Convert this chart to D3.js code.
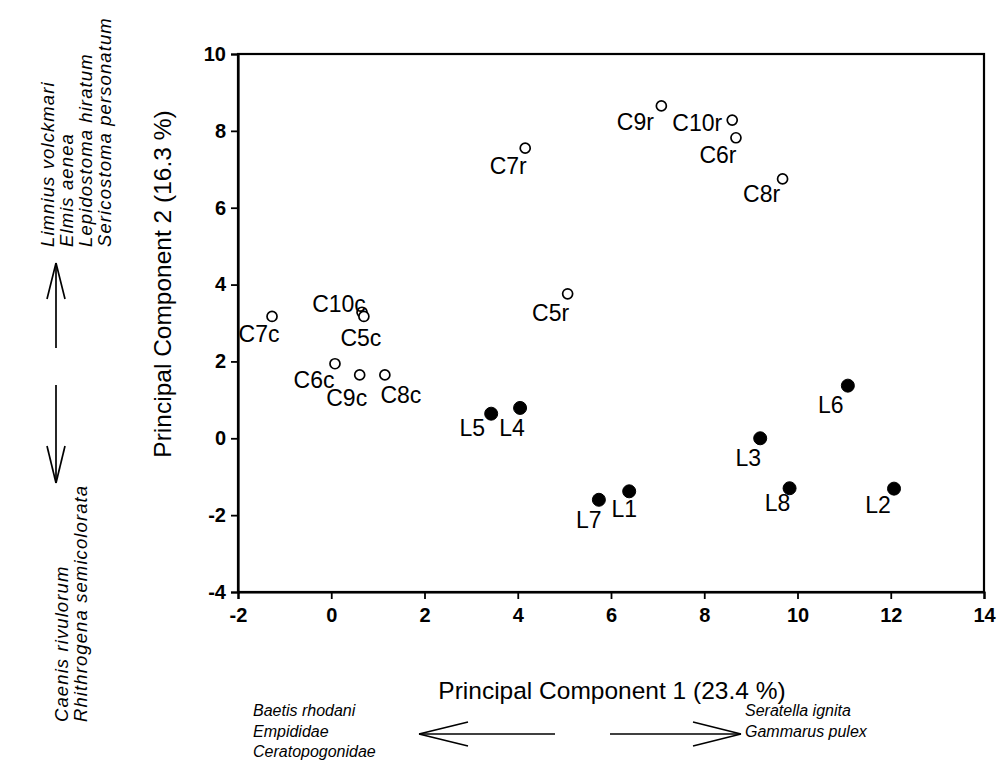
<!DOCTYPE html>
<html><head><meta charset="utf-8">
<script src="https://cdn.jsdelivr.net/npm/d3@7"></script>
<style>
body{margin:0;background:#fff;}
svg{display:block;font-family:"Liberation Sans",Arial,sans-serif;}
</style></head>
<body><svg id="chart" width="1002" height="761"></svg>
<script>
// ---- data ----
const siteNames   = ["C9r","C10r","C6r","C7r","C8r","C5r","C7c","C10c","C5c","C6c","C9c","C8c","L5","L4","L3","L1","L7","L8","L2","L6"];
const pc1Values   = [7.08, 8.60, 8.68, 4.16, 9.68, 5.07, -1.27, 0.66, 0.70, 0.08, 0.61, 1.15, 3.43, 4.05, 9.20, 6.39, 5.74, 9.83, 12.07, 11.08];
const pc2Values   = [8.65, 8.28, 7.82, 7.55, 6.75, 3.76, 3.17, 3.28, 3.17, 1.94, 1.65, 1.65, 0.64, 0.79, 0.00, -1.38, -1.60, -1.30, -1.31, 1.37];
const siteGroup   = ["open","open","open","open","open","open","open","open","open","open","open","open","filled","filled","filled","filled","filled","filled","filled","filled"];
const xTicks = [-2,0,2,4,6,8,10,12,14];
const yTicks = [-4,-2,0,2,4,6,8,10];
const xTitle = "Principal Component 1 (23.4 %)";
const yTitle = "Principal Component 2 (16.3 %)";
const taxaUp    = ["Limnius volckmari","Elmis aenea","Lepidostoma hiratum","Sericostoma personatum"];
const taxaDown  = ["Caenis rivulorum","Rhithrogena semicolorata"];
const taxaLeft  = ["Baetis rhodani","Empididae","Ceratopogonidae"];
const taxaRight = ["Seratella ignita","Gammarus pulex"];

// ---- layout (label offsets in px, not data) ----
const labelOffset = {
  C9r:[-26,16], C10r:[-35,3], C6r:[-18,17], C7r:[-17,18], C8r:[-21,15], C5r:[-17,19],
  C7c:[-13,18], C10c:[-23,-8], C5c:[-3,22], C6c:[-21,16], C9c:[-13,23], C8c:[16,20],
  L5:[-19,14], L4:[-8,20], L3:[-12,20], L1:[-5,18], L7:[-10,20], L8:[-12,15], L2:[-16,16], L6:[-17,19]
};

const svg = d3.select("#chart");
const x = d3.scaleLinear().domain([-2,14]).range([238,984]);
const y = d3.scaleLinear().domain([-4,10]).range([592,54]);
const fmt = d => String(d); // plain hyphen minus as in the original

// frame
svg.append("rect").attr("x",x(-2)).attr("y",y(10)).attr("width",x(14)-x(-2)).attr("height",y(-4)-y(10))
  .attr("fill","none").attr("stroke","#000").attr("stroke-width",2.2);

const gx = svg.append("g").attr("transform",`translate(0,${y(-4)})`)
  .call(d3.axisBottom(x).tickValues(xTicks).tickSize(7).tickPadding(9).tickFormat(fmt));
const gy = svg.append("g").attr("transform",`translate(${x(-2)},0)`)
  .call(d3.axisLeft(y).tickValues(yTicks).tickSize(7).tickPadding(5).tickFormat(fmt));
[gx,gy].forEach(g=>{
  g.select(".domain").attr("stroke","#000").attr("stroke-width",2.2);
  g.selectAll(".tick line").attr("stroke","#000").attr("stroke-width",1.8);
  g.selectAll(".tick text").attr("fill","#000").style("font-size","20px").style("font-weight","bold")
   .style("font-family","'Liberation Sans',Arial,sans-serif");
});

// axis titles
svg.append("text").attr("x",612).attr("y",699).attr("text-anchor","middle")
  .style("font-size","24.5px").text(xTitle);
svg.append("text").attr("transform","translate(171,284) rotate(-90)").attr("text-anchor","middle")
  .style("font-size","24.5px").text(yTitle);

// points
const pts = siteNames.map((n,i)=>({n, px:pc1Values[i], py:pc2Values[i], g:siteGroup[i]}));
svg.append("g").selectAll("circle").data(pts).join("circle")
  .attr("cx",d=>x(d.px)).attr("cy",d=>y(d.py))
  .attr("r",d=>d.g==="filled"?6.5:5)
  .attr("fill",d=>d.g==="filled"?"#000":"#fff")
  .attr("stroke","#000").attr("stroke-width",d=>d.g==="filled"?1:1.7);
svg.append("g").selectAll("text").data(pts).join("text")
  .attr("x",d=>x(d.px)+labelOffset[d.n][0]).attr("y",d=>y(d.py)+labelOffset[d.n][1])
  .attr("text-anchor","middle").attr("dominant-baseline","central")
  .style("font-size","23px").text(d=>d.n);

// taxa annotations
const up = svg.append("g").attr("transform","translate(0,247) rotate(-90)");
up.selectAll("text").data(taxaUp).join("text")
  .attr("x",0).attr("y",(d,i)=>54+i*19).style("font-size","18.5px").style("letter-spacing","1.1px")
  .style("font-style","italic").text(d=>d);
const down = svg.append("g").attr("transform","translate(0,722) rotate(-90)");
down.selectAll("text").data(taxaDown).join("text")
  .attr("x",0).attr("y",(d,i)=>68+i*19).style("font-size","18.5px").style("letter-spacing","1.1px")
  .style("font-style","italic").text(d=>d);
svg.append("g").selectAll("text").data(taxaLeft).join("text")
  .attr("x",253).attr("y",(d,i)=>716+i*20.5).style("font-size","16px").style("font-style","italic").text(d=>d);
svg.append("g").selectAll("text").data(taxaRight).join("text")
  .attr("x",745).attr("y",(d,i)=>716+i*20.5).style("font-size","16px").style("font-style","italic").text(d=>d);

// arrows
const ln = (x1,y1,x2,y2)=>svg.append("line").attr("x1",x1).attr("y1",y1).attr("x2",x2).attr("y2",y2)
  .attr("stroke","#000").attr("stroke-width",1.7);
// up arrow
ln(56,348,56,263); ln(56,263,47,299); ln(56,263,65,299);
// down arrow
ln(56,385,56,483); ln(56,483,47,446); ln(56,483,65,446);
// left arrow
ln(555,734,419,734); ln(419,734,468,722); ln(419,734,468,746);
// right arrow
ln(610,734,741,734); ln(741,734,693,722); ln(741,734,693,746);
</script></body></html>
